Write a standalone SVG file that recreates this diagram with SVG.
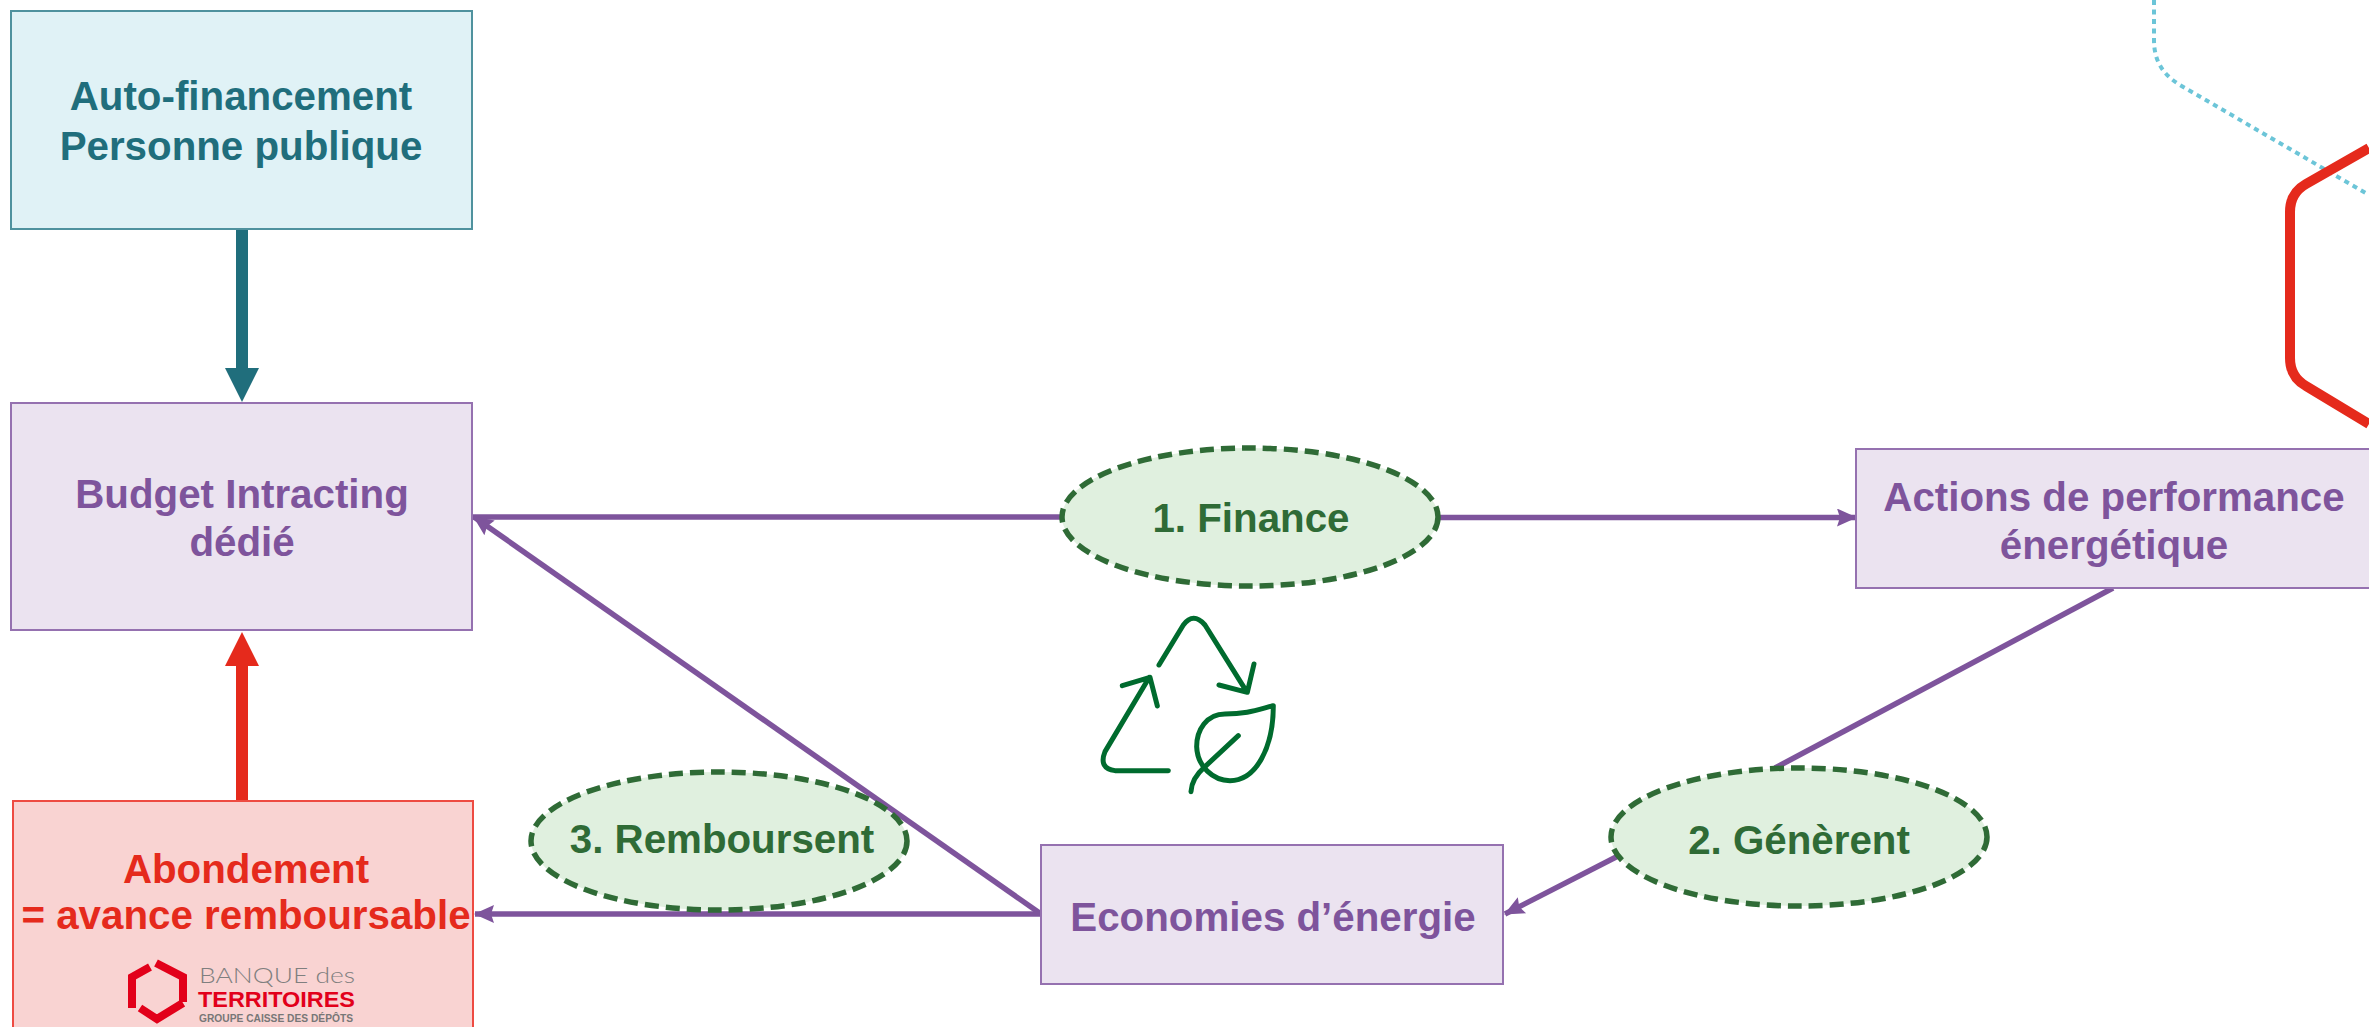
<svg xmlns="http://www.w3.org/2000/svg" width="2369" height="1027" viewBox="0 0 2369 1027">
<style>
text{font-family:"Liberation Sans",Arial,sans-serif;font-weight:700;text-anchor:middle}
.t{font-size:40.300px}
.box{stroke-width:2}
.pu{fill:#EBE3F0;stroke:#9571B0}
.put{fill:#7E549C}
.el{fill:#E0F0DF;stroke:#2F6B36;stroke-width:5.500;stroke-dasharray:14 7}
.elt{fill:#2F6B36}
.c{fill:none;stroke:#7E549C;stroke-width:5.500}
.ic{fill:none;stroke:#006B2E;stroke-linecap:round;stroke-linejoin:round}
.lg{fill:none;stroke:#E2001A;stroke-width:8}
</style>
<defs>
<marker id="ap" markerUnits="userSpaceOnUse" markerWidth="20" markerHeight="18" refX="19" refY="9" orient="auto"><path d="M0 0L20 9L0 18L3 9Z" fill="#7E549C"/></marker>
</defs>
<rect width="2369" height="1027" fill="#fff"/>
<g id="decor">
<path d="M2154 0V40C2154 60 2162 74 2180 85L2369 195" fill="none" stroke="#6CC5D8" stroke-width="4" stroke-dasharray="5 4.500"/>
<path d="M2369 148L2306 184Q2290 193 2290 212V358Q2290 377 2306 386L2369 424" fill="none" stroke="#E52A1C" stroke-width="10"/>
</g>
<g id="connectors">
<path d="M242 229V370" fill="none" stroke="#206E7C" stroke-width="12"/>
<path d="M225 368H259L242 402Z" fill="#206E7C"/>
<path d="M242 801V664" fill="none" stroke="#E52A1C" stroke-width="12"/>
<path d="M225 666H259L242 632Z" fill="#E52A1C"/>
<path class="c" d="M1062 517H473"/>
<path class="c" d="M1438 517.500H1856" marker-end="url(#ap)"/>
<path class="c" d="M1041 914L474 517" marker-end="url(#ap)"/>
<path class="c" d="M1041 914H475" marker-end="url(#ap)"/>
<path class="c" d="M2113 588L1775 768"/>
<path class="c" d="M1620 855L1505 914" marker-end="url(#ap)"/>
</g>
<g id="n-auto"><rect class="box" x="11" y="11" width="461" height="218" fill="#E0F2F6" stroke="#4F929E"/>
<text class="t" x="241" y="110" fill="#206E7C">Auto-financement</text><text class="t" x="241" y="160" fill="#206E7C">Personne publique</text></g>
<g id="n-budget"><rect class="box pu" x="11" y="403" width="461" height="227"/>
<text class="t put" x="242" y="508">Budget Intracting</text><text class="t put" x="242" y="556">dédié</text></g>
<g id="n-actions"><rect class="box pu" x="1856" y="449" width="520" height="139"/>
<text class="t put" x="2114" y="511">Actions de performance</text><text class="t put" x="2114" y="559">énergétique</text></g>
<g id="n-eco"><rect class="box pu" x="1041" y="845" width="462" height="139"/>
<text class="t put" x="1273" y="931">Economies d’énergie</text></g>
<g id="n-abond"><rect class="box" x="13" y="801" width="460" height="230" fill="#F9D3D2" stroke="#EE4B42"/>
<text class="t" x="246" y="883" fill="#E52A1C">Abondement</text><text class="t" x="246" y="929" fill="#E52A1C">= avance remboursable</text>
<path class="lg" d="M150 967L132 977V1008M156 963L183 977V1002M140 1008L157 1019L183 1003"/>
<text x="199" y="983" style="text-anchor:start;font-family:'Lato','Liberation Sans',sans-serif;font-weight:300;font-size:21px" fill="#7F7F7F" textLength="156" lengthAdjust="spacingAndGlyphs">BANQUE des</text>
<text x="198" y="1007" style="text-anchor:start;font-size:22px" fill="#E2001A" textLength="157" lengthAdjust="spacingAndGlyphs">TERRITOIRES</text>
<text x="199" y="1022" style="text-anchor:start;font-size:10px" fill="#777" textLength="154" lengthAdjust="spacingAndGlyphs">GROUPE CAISSE DES DÉPÔTS</text></g>
<g id="n-finance"><ellipse class="el" cx="1250" cy="517" rx="188" ry="69"/><text class="t elt" x="1251" y="532">1. Finance</text></g>
<g id="n-remb"><ellipse class="el" cx="719" cy="841" rx="188" ry="69"/><text class="t elt" x="722" y="853">3. Remboursent</text></g>
<g id="n-gen"><ellipse class="el" cx="1799" cy="837" rx="188" ry="69"/><text class="t elt" x="1799" y="854">2. Génèrent</text></g>
<g id="icon" transform="translate(1060 590) scale(.3333)">
<g class="ic" stroke-width="15">
<path d="M297 225L370 105Q400 65 435 105L560 305M477 285L562 307L582 222"/>
<path d="M325 542H165Q115 535 135 485L268 262M187 287L270 262L292 348"/>
<path d="M640 347C590 360 560 372 495 372C440 372 410 420 410 470C412 530 460 572 510 572C590 572 640 470 640 347Z"/>
<path d="M535 437L435 530Q395 565 393 605"/>
</g></g>
</svg>
